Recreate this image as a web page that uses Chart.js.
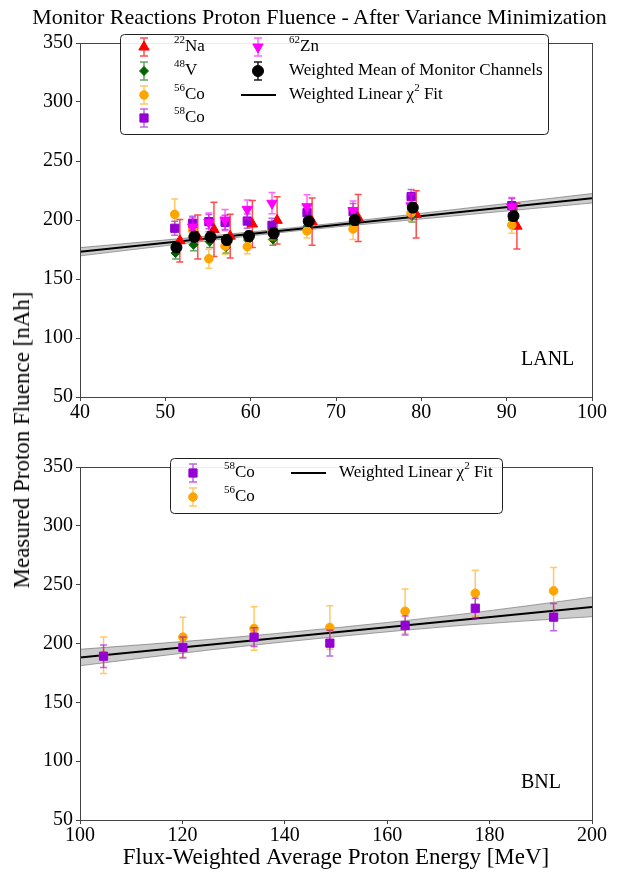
<!DOCTYPE html>
<html>
<head>
<meta charset="utf-8">
<script src="https://cdn.jsdelivr.net/npm/chart.js@4.4.1/dist/chart.umd.min.js"></script>
<style>
body { margin: 0; background: #fff; }
#wrap { position: relative; width: 639px; height: 872px; font-family: 'Liberation Serif', 'Times New Roman', serif; color: #000; }
#title { position: absolute; left: 0; top: 4px; width: 639px; text-align: center; font-size: 22px; white-space: nowrap; }
#ylabel { position: absolute; left: 22px; top: 440px; transform: translate(-50%, -50%) rotate(-90deg); white-space: nowrap; font-size: 23px; }
canvas { position: absolute; left: 0; }
</style>
</head>
<body>
<div id="wrap">
  <canvas id="lanlChart" width="639" height="440" style="top:0"></canvas>
  <canvas id="bnlChart" width="639" height="432" style="top:440px"></canvas>
  <div id="title">Monitor Reactions Proton Fluence - After Variance Minimization</div>
  <div id="ylabel">Measured Proton Fluence [nAh]</div>
</div>
<script>
// LANL data (top panel)
const naEnergy   = [51.7, 53.8, 55.7, 57.6, 60.2, 63.1, 67.2, 72.6, 79.4, 91.2];
const naValues   = [182.5, 185.6, 192.0, 186.3, 196.6, 199.7, 198.6, 201.7, 204.7, 194.8];
const naErrors   = [18, 18.6, 23, 18.5, 20, 20, 20, 20, 20, 19.4];

const vEnergy    = [51.2, 53.3, 55.2, 57.1, 59.7, 62.6, 66.7, 72.1, 78.9, 90.7];
const vValues    = [172.0, 179.0, 181.6, 177.0, 183.0, 183.5, 195.0, 196.0, 203.4, 200.0];
const vErrors    = [5, 5, 5, 5, 5, 5, 5, 5, 5, 5];

const coEnergy   = [51.1, 53.2, 55.1, 57.0, 59.6, 62.5, 66.6, 72.0, 78.8, 90.6];
const co56Values = [204.8, 191.5, 167.2, 178.0, 177.4, 190.0, 190.7, 192.4, 206.0, 195.8];
const co56Errors = [13, 7, 8, 7, 6, 7, 6, 9, 7, 7];
const co58Values = [193.0, 197.2, 198.6, 198.0, 199.1, 195.5, 206.2, 207.0, 219.8, 212.2];
const co58Errors = [6, 6, 6, 6, 6, 6, 6, 7, 6, 6];
const znValues   = [null, 194.0, 198.0, 200.0, 209.0, 214.2, 211.3, 208.0, 212.0, 211.0];
const znErrors   = [0, 8, 8, 9, 8, 9, 10, 8, 10, 8];

const meanEnergy = [51.3, 53.4, 55.3, 57.2, 59.8, 62.7, 66.8, 72.2, 79.0, 90.8];
const meanValues = [176.8, 185.8, 185.8, 183.0, 186.4, 188.7, 199.0, 200.0, 210.5, 203.4];
const meanErrors = [4, 4, 4, 4, 4, 4, 4, 4, 4, 4];

const lanlFitX   = [40, 100];
const lanlFitY   = [173.1, 218.4];
const lanlBandX  = [40, 55, 65, 75, 100];
const lanlBandHi = [176.6, 186.4, 193.5, 201.5, 222.4];
const lanlBandLo = [169.6, 182.4, 190.5, 197.5, 214.4];

// BNL data (bottom panel)
const bnlEnergy     = [104.6, 120.1, 134.0, 148.8, 163.5, 177.2, 192.5];
const bnlCo58Values = [189.2, 196.6, 205.4, 200.3, 215.3, 230.0, 222.4];
const bnlCo58Errors = [9.5, 9, 8, 11, 8, 8.5, 11.6];
const bnlCo56Values = [190.0, 205.4, 212.7, 213.6, 227.4, 242.7, 244.7];
const bnlCo56Errors = [15.5, 17, 18.5, 18.4, 19, 19.5, 19.8];

const bnlFitX   = [100, 200];
const bnlFitY   = [188.1, 231.1];
const bnlBandX  = [100, 125, 150, 175, 200];
const bnlBandHi = [195.1, 203.35, 213.4, 225.15, 239.4];
const bnlBandLo = [181.1, 194.35, 205.8, 215.55, 222.8];

const yTicks = [50, 100, 150, 200, 250, 300, 350];

const FONT = "'Liberation Serif', 'Times New Roman', serif";
const COLORS = {
    na: '#ff0000', v: '#006400', co56: '#ffa500', co58: '#9400d3', zn: '#ff00ff', mean: '#000000'
};
const ERR_COLORS = {
    na: 'rgba(255,0,0,0.7)', v: 'rgba(0,100,0,0.6)', co56: 'rgba(255,165,0,0.6)',
    co58: 'rgba(148,0,211,0.6)', zn: 'rgba(255,0,255,0.6)', mean: 'rgba(0,0,0,0.9)'
};

function points(xs, ys) {
    return xs.map((x, i) => ({ x: x, y: ys[i] }));
}

function markerSet(label, xs, ys, errs, key, style, radius, order, rotation) {
    return {
        label: label,
        data: points(xs, ys),
        errors: errs,
        errorColor: ERR_COLORS[key],
        pointStyle: style,
        pointRadius: radius,
        pointRotation: rotation || 0,
        pointBackgroundColor: COLORS[key],
        pointBorderColor: COLORS[key],
        pointBorderWidth: 1,
        showLine: false,
        order: order
    };
}

function bandSets(xs, lo, hi, fitX, fitY) {
    return [
        { data: points(xs, lo), showLine: true, pointRadius: 0, borderColor: 'rgba(90,90,90,0.55)', borderWidth: 1,
          tension: 0.4, cubicInterpolationMode: 'monotone', fill: false, order: 20 },
        { data: points(xs, hi), showLine: true, pointRadius: 0, borderColor: 'rgba(90,90,90,0.55)', borderWidth: 1,
          tension: 0.4, cubicInterpolationMode: 'monotone', fill: '-1', backgroundColor: 'rgba(128,128,128,0.4)', order: 19 },
        { data: points(fitX, fitY), showLine: true, pointRadius: 0, borderColor: '#000', borderWidth: 2, fill: false, order: 18 }
    ];
}

// Error bars drawn just before each dataset so layering follows the dataset order
const errorBarPlugin = {
    id: 'errorBars',
    beforeDatasetDraw(chart, args) {
        const ds = chart.data.datasets[args.index];
        if (!ds.errors) return;
        const ctx = chart.ctx;
        const yScale = chart.scales.y;
        ctx.save();
        ctx.strokeStyle = ds.errorColor;
        ctx.lineWidth = 1.5;
        args.meta.data.forEach((pt, i) => {
            const v = ds.data[i].y;
            const e = ds.errors[i];
            if (v === null || !e) return;
            const top = yScale.getPixelForValue(v + e);
            const bot = yScale.getPixelForValue(v - e);
            ctx.beginPath();
            ctx.moveTo(pt.x, top); ctx.lineTo(pt.x, bot);
            ctx.moveTo(pt.x - 3.5, top); ctx.lineTo(pt.x + 3.5, top);
            ctx.moveTo(pt.x - 3.5, bot); ctx.lineTo(pt.x + 3.5, bot);
            ctx.stroke();
        });
        ctx.restore();
    }
};

// Top and right spines
const framePlugin = {
    id: 'frame',
    afterDatasetsDraw(chart) {
        const a = chart.chartArea, ctx = chart.ctx;
        ctx.save();
        ctx.strokeStyle = '#444';
        ctx.lineWidth = 1;
        ctx.strokeRect(Math.round(a.left) + 0.5, Math.round(a.top) + 0.5, Math.round(a.right - a.left), Math.round(a.bottom - a.top));
        ctx.restore();
    }
};

function drawRich(ctx, x, y, parts) {
    parts.forEach(p => {
        if (p.sup) {
            ctx.font = '11px ' + FONT;
            ctx.fillText(p.t, x, y - 7);
        } else {
            ctx.font = '17px ' + FONT;
            ctx.fillText(p.t, x, y);
        }
        x += ctx.measureText(p.t).width;
    });
}

function drawMarker(ctx, item) {
    // error bar icon
    ctx.strokeStyle = ERR_COLORS[item.key];
    ctx.lineWidth = 1.5;
    ctx.beginPath();
    ctx.moveTo(item.x, item.y - 9); ctx.lineTo(item.x, item.y + 9);
    ctx.moveTo(item.x - 4, item.y - 9); ctx.lineTo(item.x + 4, item.y - 9);
    ctx.moveTo(item.x - 4, item.y + 9); ctx.lineTo(item.x + 4, item.y + 9);
    ctx.stroke();
    ctx.fillStyle = COLORS[item.key];
    ctx.strokeStyle = COLORS[item.key];
    ctx.lineWidth = 1;
    Chart.helpers.drawPoint(ctx, { pointStyle: item.style, radius: item.r, rotation: item.rot || 0, borderWidth: 1 }, item.x, item.y);
}

function legendPlugin(id, box, items, corner) {
    return {
        id: id,
        afterDraw(chart) {
            const ctx = chart.ctx;
            ctx.save();
            // panel label
            ctx.fillStyle = '#000';
            ctx.textBaseline = 'middle';
            ctx.font = '20px ' + FONT;
            ctx.fillText(corner, chart.chartArea.left + 441, chart.chartArea.bottom - 37);
            // legend box
            ctx.beginPath();
            ctx.roundRect(box[0] + 0.5, box[1] + 0.5, box[2], box[3], 4);
            ctx.fillStyle = 'rgba(255,255,255,0.9)';
            ctx.fill();
            ctx.strokeStyle = '#222';
            ctx.lineWidth = 1;
            ctx.stroke();
            items.forEach(item => {
                if (item.key) drawMarker(ctx, item);
                if (item.line) {
                    ctx.strokeStyle = '#000';
                    ctx.lineWidth = 2;
                    ctx.beginPath();
                    ctx.moveTo(item.line[0], item.y); ctx.lineTo(item.line[1], item.y);
                    ctx.stroke();
                }
                ctx.fillStyle = '#000';
                ctx.textBaseline = 'middle';
                drawRich(ctx, item.tx, item.y, item.text);
            });
            ctx.restore();
        }
    };
}

function makeOptions(xMin, xMax, xStep, padTop, xHeight, xTitle) {
    return {
        responsive: false,
        animation: false,
        layout: { padding: { left: 0, right: 47, top: padTop, bottom: 0 } },
        plugins: { legend: { display: false }, tooltip: { enabled: false }, title: { display: false } },
        scales: {
            x: {
                type: 'linear', min: xMin, max: xMax,
                ticks: { stepSize: xStep, color: '#000', font: { family: FONT, size: 20 }, padding: 0, maxRotation: 0 },
                grid: { display: true, drawOnChartArea: false, drawTicks: true, tickLength: 4, color: '#444' },
                border: { display: true, color: '#444', width: 1 },
                title: { display: !!xTitle, text: xTitle, color: '#000', font: { family: FONT, size: 23 }, padding: { top: 0, bottom: 0 } },
                afterFit: s => { s.height = xHeight; }
            },
            y: {
                type: 'linear', min: 50, max: 350,
                afterBuildTicks: s => { s.ticks = yTicks.map(v => ({ value: v })); },
                ticks: { color: '#000', font: { family: FONT, size: 20 }, padding: 3 },
                grid: { display: true, drawOnChartArea: false, drawTicks: true, tickLength: 4, color: '#444' },
                border: { display: true, color: '#444', width: 1 },
                afterFit: s => { s.width = 80; }
            }
        }
    };
}

const lanlDatasets = bandSets(lanlBandX, lanlBandLo, lanlBandHi, lanlFitX, lanlFitY).concat([
    markerSet('22Na', naEnergy, naValues, naErrors, 'na', 'triangle', 6, 5),
    markerSet('48V', vEnergy, vValues, vErrors, 'v', 'rectRot', 4.5, 4),
    markerSet('56Co', coEnergy, co56Values, co56Errors, 'co56', 'circle', 4.3, 3),
    markerSet('58Co', coEnergy, co58Values, co58Errors, 'co58', 'rect', 5.8, 2),
    markerSet('62Zn', coEnergy, znValues, znErrors, 'zn', 'triangle', 6, 1, 180),
    markerSet('Weighted Mean of Monitor Channels', meanEnergy, meanValues, meanErrors, 'mean', 'circle', 5.5, 0)
]);

const lanlLegend = legendPlugin('lanlLegend', [120, 34, 428, 100], [
    { key: 'na', style: 'triangle', r: 6, x: 144, y: 47, tx: 174, text: [{ t: '22', sup: true }, { t: 'Na' }] },
    { key: 'v', style: 'rectRot', r: 4.5, x: 144, y: 71, tx: 174, text: [{ t: '48', sup: true }, { t: 'V' }] },
    { key: 'co56', style: 'circle', r: 4.3, x: 144, y: 95, tx: 174, text: [{ t: '56', sup: true }, { t: 'Co' }] },
    { key: 'co58', style: 'rect', r: 5.8, x: 144, y: 118, tx: 174, text: [{ t: '58', sup: true }, { t: 'Co' }] },
    { key: 'zn', style: 'triangle', r: 6, rot: 180, x: 258, y: 47, tx: 289, text: [{ t: '62', sup: true }, { t: 'Zn' }] },
    { key: 'mean', style: 'circle', r: 5.5, x: 258, y: 71, tx: 289, text: [{ t: 'Weighted Mean of Monitor Channels' }] },
    { line: [241, 276], y: 95, tx: 289, text: [{ t: 'Weighted Linear \u03c7' }, { t: '2', sup: true }, { t: ' Fit' }] }
], 'LANL');

new Chart(document.getElementById('lanlChart'), {
    type: 'scatter',
    data: { datasets: lanlDatasets },
    options: makeOptions(40, 100, 10, 43, 43, ''),
    plugins: [errorBarPlugin, framePlugin, lanlLegend]
});

const bnlDatasets = bandSets(bnlBandX, bnlBandLo, bnlBandHi, bnlFitX, bnlFitY).concat([
    markerSet('58Co', bnlEnergy, bnlCo58Values, bnlCo58Errors, 'co58', 'rect', 5.8, 0),
    markerSet('56Co', bnlEnergy, bnlCo56Values, bnlCo56Errors, 'co56', 'circle', 4.3, 1)
]);

const bnlLegend = legendPlugin('bnlLegend', [170, 18, 332, 55], [
    { key: 'co58', style: 'rect', r: 5.8, x: 193, y: 33, tx: 224, text: [{ t: '58', sup: true }, { t: 'Co' }] },
    { key: 'co56', style: 'circle', r: 4.3, x: 193, y: 57, tx: 224, text: [{ t: '56', sup: true }, { t: 'Co' }] },
    { line: [291, 326], y: 33, tx: 339, text: [{ t: 'Weighted Linear \u03c7' }, { t: '2', sup: true }, { t: ' Fit' }] }
], 'BNL');

new Chart(document.getElementById('bnlChart'), {
    type: 'scatter',
    data: { datasets: bnlDatasets },
    options: makeOptions(100, 200, 20, 27, 52, 'Flux-Weighted Average Proton Energy [MeV]'),
    plugins: [errorBarPlugin, framePlugin, bnlLegend]
});
</script>
</body>
</html>
